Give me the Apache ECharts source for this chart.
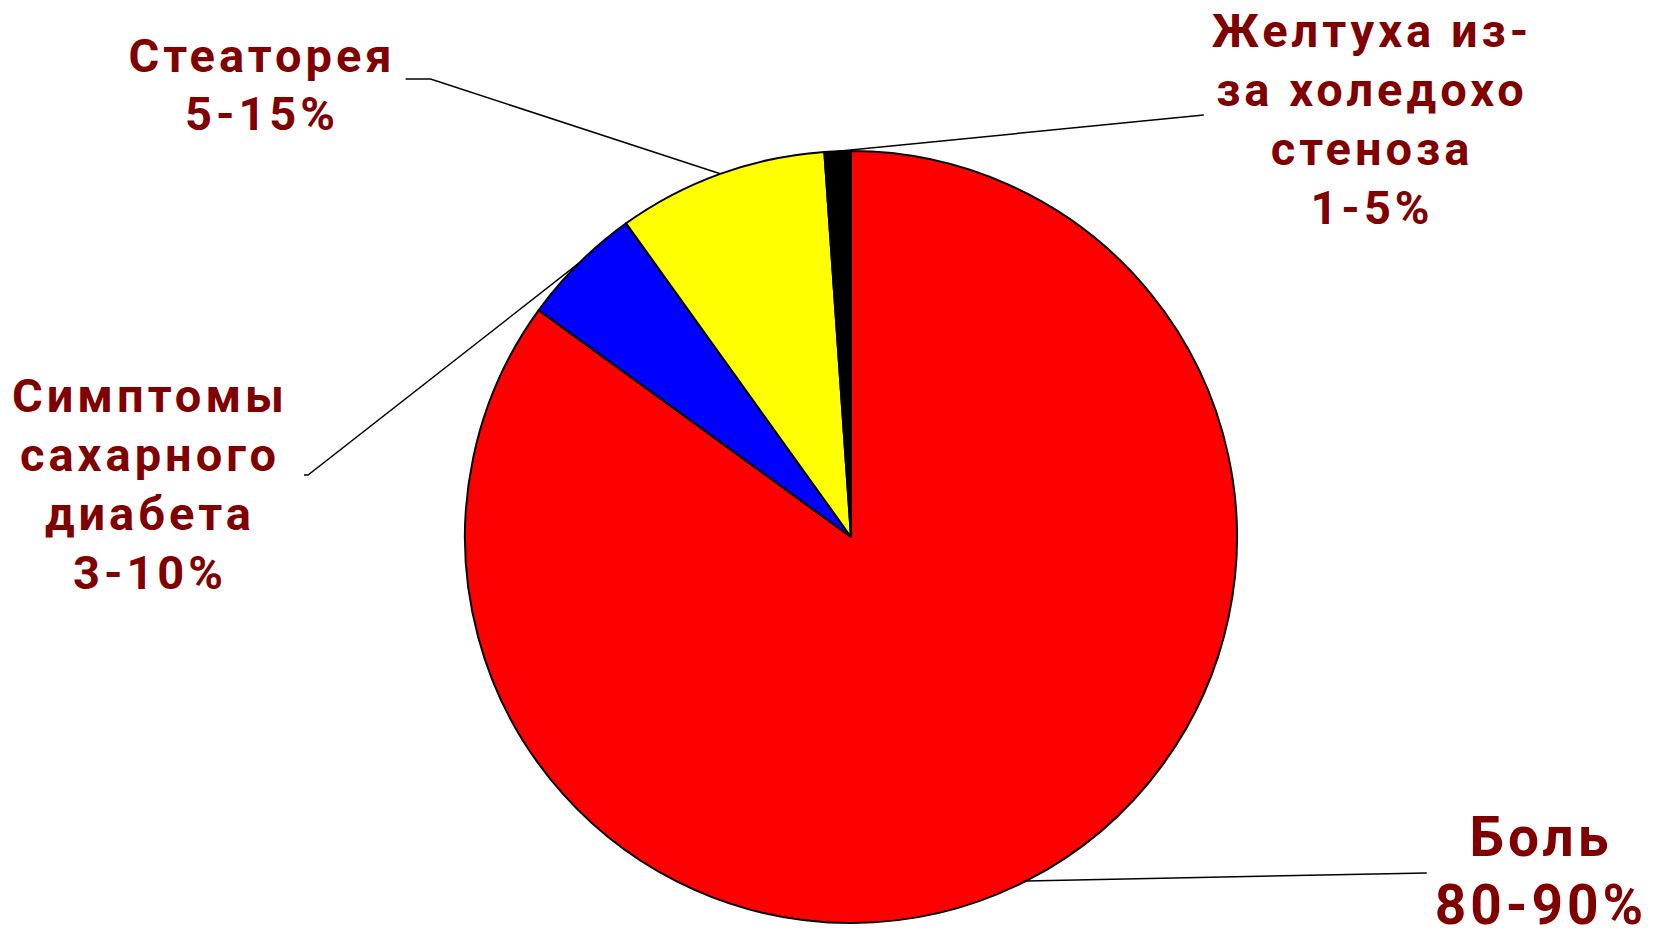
<!DOCTYPE html>
<html>
<head>
<meta charset="utf-8">
<title>Pie</title>
<script src="https://cdn.jsdelivr.net/npm/echarts@6/dist/echarts.min.js"></script>
<style>
html, body { margin: 0; padding: 0; background: #fff; }
#main { width: 1653px; height: 939px; }
#main text { letter-spacing: 4px; }
</style>
</head>
<body>
<div id="main"></div>
<script>
const names = ['Боль', 'Симптомы сахарного диабета', 'Стеаторея', 'Желтуха из-за холедохостеноза'];
const values = [85.0, 5.1, 8.8, 1.1];
const ranges = ['80-90%', '3-10%', '5-15%', '1-5%'];
const labelLines = [
    ['Боль'],
    ['Симптомы', 'сахарного', 'диабета'],
    ['Стеаторея'],
    ['Желтуха из-', 'за холедохо', 'стеноза']
];
const colors = ['#ff0000', '#0000ff', '#ffff00', '#000000'];

// label placement: centre of the text block, side the leader meets (-1 left, 1 right)
const labelPlace = [
    { x: 1541, y: 871, side: -1, gap: 20, stub: 0, dy: 2, size: 55, lh: 68 },
    { x: 150, y: 484, side: 1, gap: 32, stub: 4, dy: -9, size: 47, lh: 59 },
    { x: 262, y: 84, side: 1, gap: 28, stub: 25, dy: -5, size: 47, lh: 58 },
    { x: 1372, y: 119, side: -1, gap: 30, stub: 0, dy: -4, size: 47, lh: 59 }
];

let myChart = echarts.init(document.getElementById('main'), null, { renderer: 'svg' });

let seriesData = names.map((n, i) => ({
    name: n,
    value: values[i],
    itemStyle: { color: colors[i] },
    label: { fontSize: labelPlace[i].size, lineHeight: labelPlace[i].lh }
}));

let option = {
    animation: false,
    backgroundColor: '#fff',
    series: [
        {
            type: 'pie',
            center: [851, 537],
            radius: 386,
            startAngle: 90,
            clockwise: true,
            data: seriesData,
            itemStyle: {
                borderColor: '#000',
                borderWidth: 2
            },
            label: {
                show: true,
                position: 'outside',
                color: '#800000',
                fontFamily: 'Roboto',
                fontWeight: 'bold',
                formatter: function (p) {
                    return labelLines[p.dataIndex].concat(ranges[p.dataIndex]).join('\n');
                }
            },
            labelLine: {
                show: true,
                lineStyle: { color: '#000', width: 1.5 }
            },
            labelLayout: function (p) {
                const c = labelPlace[p.dataIndex];
                const w = p.labelRect.width;
                const endX = c.x + c.side * (w / 2 + c.gap);
                const bendX = endX + c.side * c.stub;
                const ly = c.y + c.dy;
                return {
                    x: c.x,
                    y: c.y,
                    align: 'center',
                    verticalAlign: 'middle',
                    labelLinePoints: [p.labelLinePoints[0], [bendX, ly], [endX, ly]]
                };
            }
        }
    ]
};
myChart.setOption(option);
</script>
</body>
</html>
